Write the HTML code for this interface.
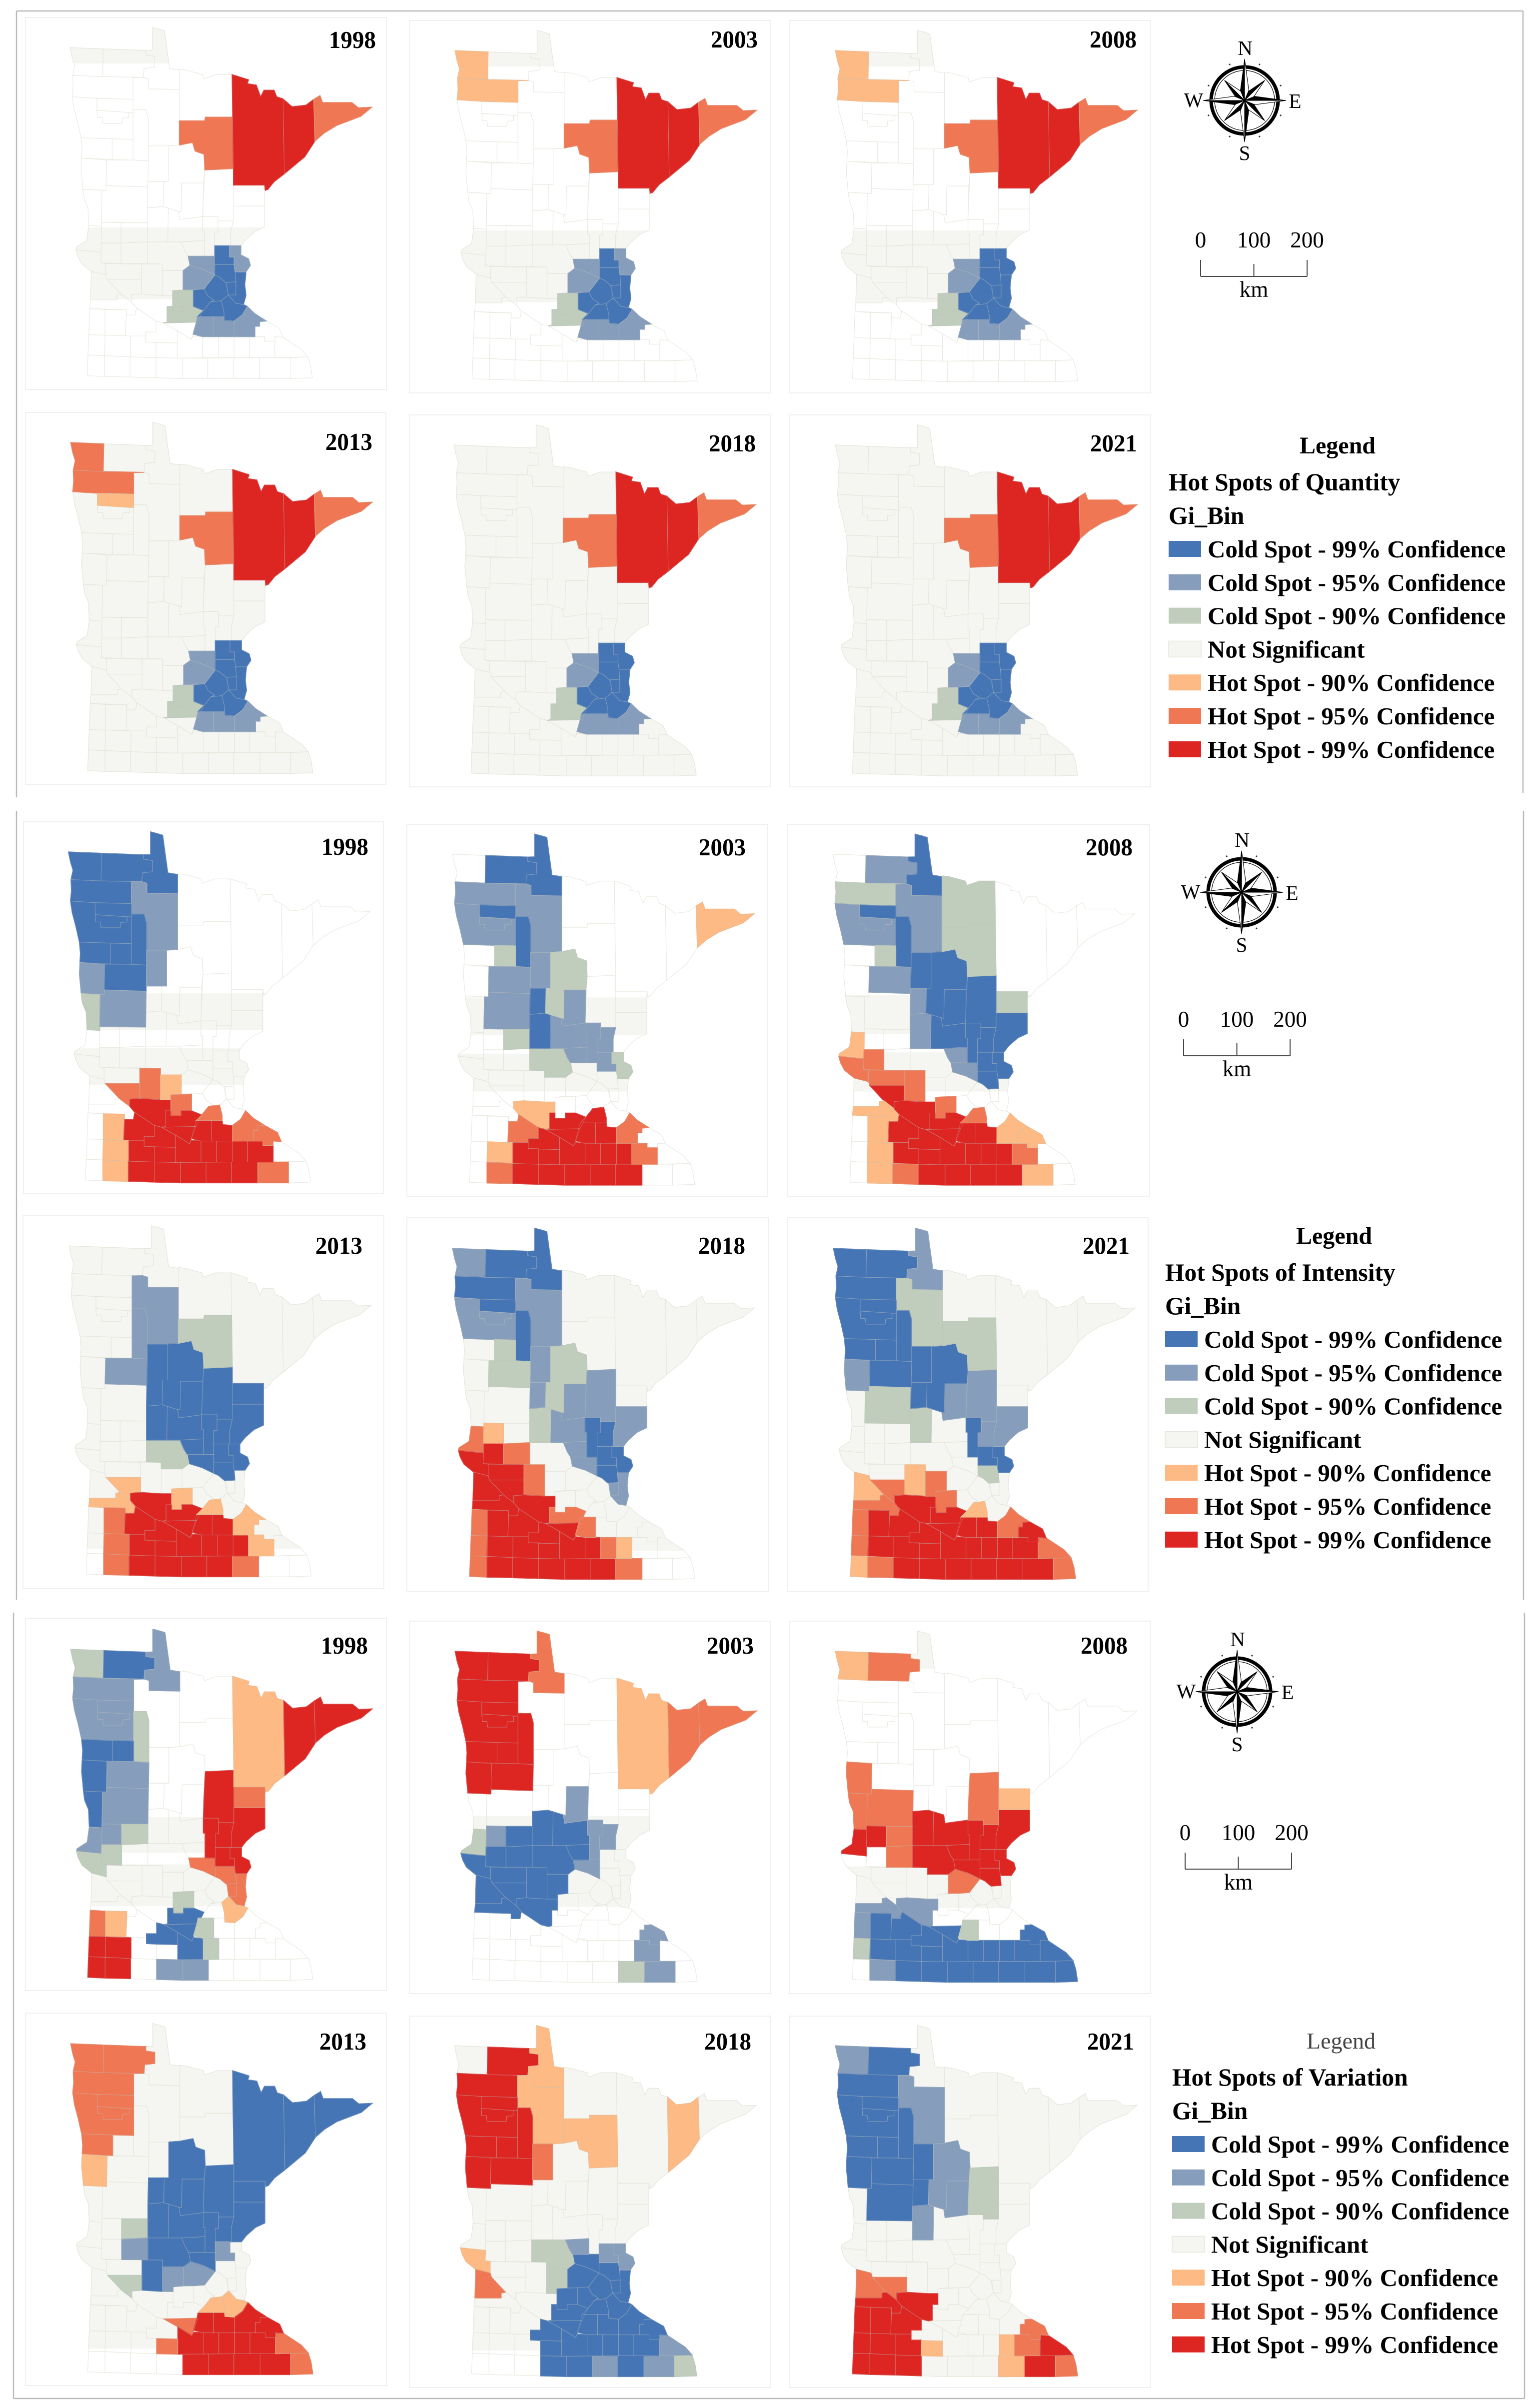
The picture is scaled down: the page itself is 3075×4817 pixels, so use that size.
<!DOCTYPE html>
<html lang="en">
<head>
<meta charset="utf-8">
<title>Hot spots of quantity, intensity and variation across Minnesota counties</title>
<style>
html,body{margin:0;padding:0;background:#fff}
svg{display:block}
text{font-family:"Liberation Serif",serif;fill:#000}
</style>
</head>
<body>
<svg id="figure" xmlns="http://www.w3.org/2000/svg" width="3075" height="4817" viewBox="0 0 3075 4817"></svg>
<script>
/* ---------- class colours and legend ---------- */
const classColors = {c3:'#4575b5',c2:'#869dbb',c1:'#c0ccbc',ns:'#f5f6f1',h1:'#fdba84',h2:'#ef7753',h3:'#dd2522'};
const legendClasses = ['c3','c2','c1','ns','h1','h2','h3'];
const legendLabels = ['Cold Spot - 99% Confidence','Cold Spot - 95% Confidence','Cold Spot - 90% Confidence','Not Significant','Hot Spot - 90% Confidence','Hot Spot - 95% Confidence','Hot Spot - 99% Confidence'];
const scaleTicks = [0,100,200];

/* ---------- quantity ---------- */
const q1998 = [['c3','Isanti','Anoka','Hennepin','Ramsey','Washington','Carver','Scott','Dakota'],['c2','Chisago','Sherburne','Wright','LeSueur','Rice','Goodhue'],['c1','McLeod','Sibley'],['h2','Cook','Itasca'],['h3','StLouis','Lake']];
const q2003 = [['c3','Isanti','Anoka','Hennepin','Ramsey','Washington','Carver','Scott','Dakota'],['c2','Chisago','Sherburne','Wright','LeSueur','Rice','Goodhue'],['c1','McLeod','Sibley'],['h1','Kittson','Marshall'],['h2','Cook','Itasca'],['h3','StLouis','Lake']];
const q2008 = [['c3','Isanti','Chisago','Anoka','Hennepin','Ramsey','Washington','Carver','Scott','Dakota'],['c2','Sherburne','Wright','LeSueur','Rice','Goodhue'],['c1','McLeod','Sibley'],['h1','Kittson','Marshall'],['h2','Cook','Itasca'],['h3','StLouis','Lake']];
const q2013 = [['c3','Isanti','Chisago','Anoka','Hennepin','Ramsey','Washington','Carver','Scott','Dakota'],['c2','Sherburne','Wright','LeSueur','Rice','Goodhue'],['c1','McLeod','Sibley'],['h1','Pennington'],['h2','Kittson','Marshall','Cook','Itasca'],['h3','StLouis','Lake']];
const q2018 = [['c3','Isanti','Chisago','Anoka','Hennepin','Ramsey','Washington','Carver','Scott','Dakota'],['c2','Sherburne','Wright','LeSueur','Rice','Goodhue'],['c1','McLeod','Sibley'],['h2','Cook','Itasca'],['h3','StLouis','Lake']];
const q2021 = [['c3','Isanti','Chisago','Anoka','Hennepin','Ramsey','Washington','Carver','Scott','Dakota'],['c2','Sherburne','Wright','LeSueur','Rice','Goodhue'],['c1','McLeod','Sibley'],['h2','Cook','Itasca'],['h3','StLouis','Lake']];

/* ---------- intensity ---------- */
const i1998 = [['c3','Kittson','Roseau','LakeWoods','Marshall','Polk','Pennington','RedLake','Norman','Mahnomen','Clearwater','Becker'],['c2','Beltrami','Hubbard','Clay','OtterTail'],['c1','Wilkin'],['h1','Meeker','Lyon','Murray','Nobles'],['h2','Kandiyohi','Chippewa','McLeod','Scott','Goodhue','Wabasha','Fillmore'],['h3','Renville','Sibley','Redwood','Brown','Nicollet','LeSueur','Rice','Cottonwood','Watonwan','BlueEarth','Waseca','Steele','Dodge','Olmsted','Jackson','Martin','Faribault','Freeborn','Mower']];
const i2003 = [['c3','Roseau','LakeWoods','Pennington','Clearwater','Wadena','Todd'],['c2','Marshall','Polk','RedLake','Beltrami','Becker','Hubbard','CrowWing','OtterTail','Morrison','MilleLacs','Kanabec','Benton','Isanti'],['c1','Mahnomen','Cass','Douglas','Chisago','Stearns'],['h1','Cook','Renville','Murray'],['h2','Redwood','Goodhue','Olmsted','Nobles'],['h3','Sibley','Scott','Nicollet','Brown','LeSueur','Rice','Cottonwood','Watonwan','BlueEarth','Waseca','Steele','Dodge','Jackson','Martin','Faribault','Freeborn','Mower']];
const i2008 = [['c3','LakeWoods','Pennington','Clearwater','Hubbard','Cass','CrowWing','Aitkin','Pine','Kanabec','MilleLacs','Morrison','Isanti','Chisago','Anoka'],['c2','Roseau','Beltrami','Polk','RedLake','Becker','Todd','Wadena','Benton','Sherburne'],['c1','Marshall','Koochiching','Itasca','Mahnomen','Carlton'],['h1','Traverse','YellowMedicine','Lyon','Goodhue','Wabasha','Murray','Nobles','Fillmore'],['h2','Stevens','BigStone','Swift','Kandiyohi','McLeod','Scott','Olmsted','Jackson'],['h3','Chippewa','Renville','Sibley','Redwood','Brown','Nicollet','LeSueur','Rice','Cottonwood','Watonwan','BlueEarth','Waseca','Steele','Dodge','Martin','Faribault','Freeborn','Mower']];
const i2013 = [['c3','Hubbard','Cass','Wadena','CrowWing','Aitkin','Carlton','Pine','Kanabec','MilleLacs','Todd','Morrison','Benton','Isanti','Chisago','Sherburne','Anoka'],['c2','Beltrami','Clearwater','Becker'],['c1','Itasca','Stearns'],['h1','Chippewa','YellowMedicine','McLeod','Scott','Goodhue','Olmsted'],['h2','Lyon','Murray','Nobles','Mower'],['h3','Renville','Sibley','Redwood','Brown','Nicollet','LeSueur','Rice','Cottonwood','Watonwan','BlueEarth','Waseca','Steele','Dodge','Jackson','Martin','Faribault','Freeborn']];
const i2018 = [['c3','Roseau','LakeWoods','Marshall','Pennington','Clearwater','MilleLacs','Kanabec','Isanti','Chisago','Anoka'],['c2','Kittson','Polk','RedLake','Beltrami','Hubbard','Wadena','CrowWing','Aitkin','Pine','Morrison','Benton','Sherburne','Washington','Ramsey'],['c1','Todd','Cass','Mahnomen','Becker'],['h1','Grant','Dodge'],['h2','Traverse','Pope','Kandiyohi','Sibley','Lincoln','LeSueur','Pipestone','Rock','Steele','Mower'],['h3','Stevens','BigStone','Swift','Chippewa','LacQuiParle','YellowMedicine','Renville','Lyon','Redwood','Brown','Nicollet','Murray','Nobles','Cottonwood','Watonwan','BlueEarth','Waseca','Jackson','Martin','Faribault','Freeborn']];
const i2021 = [['c3','Kittson','Roseau','Marshall','Polk','Pennington','RedLake','Clearwater','Norman','Mahnomen','Becker','Hubbard','Cass','Wadena','MilleLacs','Isanti','Chisago'],['c2','LakeWoods','Clay','CrowWing','Aitkin','Pine','Kanabec'],['c1','Beltrami','Itasca','OtterTail','Todd','Anoka'],['h1','LacQuiParle','Kandiyohi','Scott','Rock'],['h2','Chippewa','Meeker','McLeod','YellowMedicine','Lincoln','Goodhue','Pipestone','Winona','Nobles','Houston'],['h3','Renville','Sibley','Lyon','Redwood','Brown','Nicollet','LeSueur','Rice','Wabasha','Murray','Cottonwood','Watonwan','BlueEarth','Waseca','Steele','Dodge','Olmsted','Jackson','Martin','Faribault','Freeborn','Mower','Fillmore']];

/* ---------- variation ---------- */
const v1998 = [['c3','Roseau','Clay','Wilkin','Norman','Mahnomen','Sibley','Nicollet','Brown','BlueEarth'],['c2','LakeWoods','Marshall','Polk','Pennington','RedLake','Becker','OtterTail','Traverse','Grant','Martin','Faribault'],['c1','Kittson','Clearwater','Douglas','Stevens','BigStone','McLeod','LeSueur','Waseca'],['h1','StLouis','Dakota','Lyon'],['h2','Carlton','Sherburne','Anoka','Ramsey','Washington','Lincoln'],['h3','Lake','Cook','Aitkin','Pine','Kanabec','MilleLacs','Isanti','Chisago','Pipestone','Murray','Rock','Nobles']];
const v2003 = [['c3','Douglas','Todd','Morrison','Benton','Stearns','Pope','Stevens','BigStone','Swift','Kandiyohi','Meeker','LacQuiParle','Chippewa','YellowMedicine','Renville'],['c2','CrowWing','MilleLacs','Kanabec','Grant','Sherburne','Wabasha','Olmsted','Fillmore'],['c1','Traverse','Mower'],['h1','StLouis'],['h2','LakeWoods','Lake','Cook'],['h3','Kittson','Roseau','Marshall','Polk','Pennington','RedLake','Clearwater','Norman','Mahnomen','Clay','Becker']];
const v2008 = [['c3','Lyon','Redwood','Brown','Nicollet','Wabasha','Winona','Murray','Cottonwood','Watonwan','BlueEarth','Waseca','Steele','Dodge','Olmsted','Jackson','Martin','Faribault','Freeborn','Mower','Fillmore','Houston'],['c2','Renville','YellowMedicine','Lincoln','Nobles'],['c1','LeSueur','Pipestone'],['h1','Kittson','Carlton'],['h2','Roseau','Clay','Wilkin','OtterTail','Aitkin','Douglas','Pope','Wright'],['h3','Pine','Kanabec','MilleLacs','Isanti','Chisago','Anoka','Morrison','Todd','Benton','Sherburne','Stearns','Grant','Traverse']];
const v2013 = [['c3','StLouis','Lake','Cook','Aitkin','Carlton','Pine','Kanabec','MilleLacs','Cass','CrowWing','Wadena','Todd','Morrison','Benton','Stearns','Sherburne','Kandiyohi'],['c2','Isanti','Pope','Meeker','Wright'],['c1','Douglas','Chippewa'],['h1','Clay','Scott','Dakota'],['h2','Kittson','Roseau','Marshall','Polk','Pennington','RedLake','Norman','Nicollet','Winona','Watonwan','Houston'],['h3','LeSueur','Rice','Goodhue','Wabasha','BlueEarth','Waseca','Steele','Dodge','Olmsted','Faribault','Freeborn','Mower','Fillmore']];
const v2018 = [['c3','Sherburne','Anoka','Wright','Hennepin','Ramsey','Washington','Carver','Scott','Dakota','Goodhue','Wabasha','Sibley','McLeod','Nicollet','Brown','BlueEarth','LeSueur','Rice','Waseca','Steele','Dodge','Olmsted','Watonwan','Martin','Faribault','Mower'],['c2','Benton','Isanti','Chisago','Winona','Freeborn','Fillmore'],['c1','Stearns','Meeker','Houston'],['h1','LakeWoods','Beltrami','Itasca','Lake','BigStone'],['h2','Hubbard','LacQuiParle'],['h3','Roseau','Marshall','Polk','Pennington','RedLake','Clearwater','Norman','Mahnomen','Clay','Becker']];
const v2021 = [['c3','Roseau','Marshall','Polk','Pennington','RedLake','Clearwater','Norman','Mahnomen','Clay','Becker','Hubbard','Wadena','OtterTail'],['c2','Kittson','Beltrami','Cass','CrowWing','Todd'],['c1','Aitkin'],['h1','Watonwan','Dodge','Mower'],['h2','LacQuiParle','Chippewa','Olmsted','Wabasha','Houston'],['h3','YellowMedicine','Lincoln','Lyon','Redwood','Renville','Pipestone','Murray','Rock','Nobles','Cottonwood','Jackson','Fillmore','Winona']];

/* ---------- base map: county outlines in map units ---------- */
const countyShapes = {
Kittson:'275,182 405,187 403,293 285,288 293,252 283,220',
Roseau:'405,187 570,193 570,210 605,215 605,258 565,262 563,296 403,293',
LakeWoods:'597,192 597,105 625,112 645,118 652,170 665,262 703,268 703,342 583,340 583,302 563,296 565,262 605,258 605,215 570,210 570,193',
Marshall:'285,288 403,293 563,296 522,297 522,380 380,376 283,370 287,330',
Beltrami:'522,297 563,296 583,302 583,340 703,342 703,555 660,558 582,558 582,455 572,420 522,420',
Pennington:'380,376 522,380 522,430 505,430 380,422',
RedLake:'380,422 505,430 505,450 480,452 478,472 403,472 400,450 382,450',
Polk:'283,370 380,376 380,422 382,450 400,450 403,472 478,472 480,452 505,450 505,430 522,430 522,533 440,531 318,527 305,470 290,415',
Clearwater:'522,420 572,420 582,455 582,615 522,612',
Norman:'318,527 440,531 440,610 320,605 322,570',
Mahnomen:'440,531 522,533 522,612 440,610',
Clay:'320,605 418,612 416,728 325,724 322,690 318,650',
Becker:'418,612 522,612 582,615 580,715 416,710',
Hubbard:'582,558 660,558 660,695 580,695 582,615',
Wilkin:'325,724 400,728 398,865 348,862 345,795 330,760',
OtterTail:'400,728 416,728 416,710 580,715 578,852 398,850',
Traverse:'348,862 398,865 397,965 298,955 300,945 340,920',
Grant:'398,850 475,852 475,930 397,930',
Douglas:'475,852 578,852 578,925 475,930',
Stevens:'397,930 475,930 475,1008 395,1005',
Pope:'475,930 578,925 578,1008 475,1008',
BigStone:'298,955 397,965 395,1005 415,1008 415,1052 358,1038 320,1008 305,980',
Swift:'415,1008 555,1010 555,1068 420,1068 415,1052',
LacQuiParle:'358,1038 415,1052 420,1068 475,1125 458,1128 458,1147 355,1147',
Chippewa:'420,1068 555,1068 555,1125 515,1128 515,1155 475,1125',
YellowMedicine:'355,1147 458,1147 458,1128 475,1125 515,1155 535,1178 530,1205 495,1205 495,1185 352,1180',
Kandiyohi:'555,1010 636,1010 636,1130 555,1125',
Renville:'515,1128 555,1125 636,1130 677,1130 677,1172 655,1172 655,1232 640,1235 612,1228 535,1178 515,1155',
Meeker:'636,1035 718,1035 718,1108 677,1112 677,1130 636,1130',
McLeod:'677,1112 758,1108 758,1172 717,1172 717,1192 677,1192 677,1130',
Sibley:'655,1172 677,1172 677,1192 717,1192 717,1172 758,1172 798,1188 775,1232 640,1235 655,1232',
Lincoln:'352,1180 412,1184 412,1282 348,1280',
Lyon:'412,1184 495,1185 495,1205 492,1285 412,1282',
Redwood:'495,1205 530,1205 535,1178 612,1228 612,1270 572,1270 572,1285 492,1285',
Pipestone:'348,1280 412,1282 412,1360 345,1358',
Murray:'412,1282 512,1285 512,1365 410,1360',
Cottonwood:'512,1285 572,1285 572,1308 612,1308 612,1368 512,1365',
Rock:'345,1358 410,1360 410,1440 342,1437',
Nobles:'410,1360 510,1365 510,1442 410,1440',
Jackson:'510,1365 612,1368 612,1445 510,1442',
Brown:'612,1228 640,1235 695,1265 695,1312 612,1310 572,1308 572,1270 612,1270',
Nicollet:'640,1235 775,1232 758,1278 750,1298 695,1265',
BlueEarth:'695,1265 750,1298 758,1285 795,1288 795,1368 695,1370',
Watonwan:'612,1310 695,1312 695,1370 612,1368',
Martin:'612,1368 715,1370 715,1448 612,1445',
Faribault:'715,1370 815,1370 815,1448 715,1448',
Freeborn:'815,1370 915,1368 915,1448 815,1448',
Mower:'915,1368 1018,1368 1018,1448 915,1448',
Fillmore:'1018,1368 1138,1368 1138,1448 1018,1448',
Houston:'1138,1368 1207,1365 1218,1400 1225,1445 1138,1448',
Waseca:'795,1288 856,1288 856,1368 795,1368',
Steele:'856,1288 918,1288 918,1368 856,1368',
Dodge:'918,1288 978,1288 978,1368 918,1368',
Olmsted:'978,1288 1038,1288 1038,1305 1078,1305 1078,1368 978,1368',
Winona:'1110,1290 1180,1335 1207,1365 1078,1368 1078,1305 1078,1288',
LeSueur:'775,1210 836,1210 836,1288 795,1288 757,1278 770,1232',
Rice:'836,1210 878,1210 880,1225 918,1228 918,1288 836,1288',
Scott:'798,1188 825,1155 868,1150 878,1190 878,1210 836,1210 775,1210',
Carver:'758,1108 800,1105 815,1132 840,1148 825,1155 798,1188 758,1172',
Hennepin:'842,1052 860,1060 885,1080 895,1128 868,1150 825,1155 840,1148 815,1132 800,1105',
Wright:'745,1015 795,1030 842,1052 800,1105 758,1108 718,1108 718,1035',
Sherburne:'738,980 802,980 842,980 842,1052 795,1030 745,1015',
Anoka:'842,1012 918,1012 922,1040 925,1078 888,1080 885,1080 860,1060 842,1052',
Ramsey:'888,1080 925,1078 925,1128 895,1128',
Washington:'922,1040 965,1040 960,1090 965,1130 955,1165 925,1160 895,1128 925,1128 925,1078',
Dakota:'868,1150 895,1128 925,1160 955,1165 970,1172 950,1205 918,1228 880,1225 878,1190',
Goodhue:'970,1172 1000,1200 1045,1228 1018,1230 1018,1248 1000,1248 1000,1288 918,1288 918,1228 950,1205',
Wabasha:'1045,1228 1095,1255 1110,1290 1078,1288 1078,1305 1038,1305 1038,1288 1000,1288 1000,1248 1018,1248 1018,1230',
Stearns:'578,925 710,925 725,960 738,980 745,1015 718,1035 636,1035 636,1010 578,1008',
Benton:'710,925 802,920 802,980 738,980 725,960',
Morrison:'660,796 700,808 705,840 795,828 795,885 802,885 802,920 710,925 658,925',
Todd:'578,795 640,790 660,796 658,925 578,925',
Wadena:'580,695 642,695 640,790 578,795',
CrowWing:'712,700 798,700 795,828 705,840 700,808 710,810',
Cass:'660,558 703,555 755,545 765,578 800,590 803,650 798,700 712,700 710,810 700,808 640,790 642,695 660,695',
MilleLacs:'795,828 855,828 855,888 842,888 842,980 802,980 802,885 795,885',
Kanabec:'855,845 915,845 905,888 905,940 842,940 842,888 855,888',
Isanti:'842,940 900,940 900,983 918,983 918,1012 842,1012',
Chisago:'900,940 945,940 945,975 975,990 982,1015 965,1040 922,1040 918,1012 918,983 900,983',
Pine:'915,788 1037,788 1037,868 1000,885 965,915 945,940 905,940 905,888 915,845',
Carlton:'915,708 1037,708 1037,788 915,788',
Aitkin:'803,650 915,645 915,845 855,845 855,828 795,828 798,750',
Itasca:'703,462 803,462 805,448 912,448 915,645 803,650 800,590 765,578 755,545 703,555',
Koochiching:'703,265 730,268 795,285 800,302 850,285 910,285 912,448 805,448 803,462 703,462',
StLouis:'910,285 975,305 970,320 1005,325 1022,370 1035,345 1075,345 1085,370 1110,378 1115,665 1075,695 1050,725 1040,728 1038,708 915,708 915,645 912,448',
Lake:'1110,378 1145,408 1200,402 1230,380 1235,540 1195,600 1115,665',
Cook:'1230,380 1255,365 1265,392 1380,392 1405,412 1458,410 1415,445 1320,480 1270,510 1235,540'
};

/* ---------- layout of panels (not data) ---------- */
const panelLayout = [
 {name:'quantity-1998',year:'1998',map:q1998,tx:0,ty:0,frame:[51,35,773,779],label:[752,96],bands:[[105,243],[870,1145]]},
 {name:'quantity-2003',year:'2003',map:q2003,tx:770,ty:6,frame:[819,41,1541,786],label:[1516,95],bands:[[105,243],[870,1145]]},
 {name:'quantity-2008',year:'2008',map:q2008,tx:1531,ty:6,frame:[1580,41,2302,786],label:[2274,95],bands:[[105,243],[870,1145]]},
 {name:'quantity-2013',year:'2013',map:q2013,tx:1,ty:790,frame:[51,825,772,1569],label:[745,900],bands:[[0,1500]]},
 {name:'quantity-2018',year:'2018',map:q2018,tx:768,ty:795,frame:[819,830,1541,1574],label:[1512,903],bands:[[0,1500]]},
 {name:'quantity-2021',year:'2021',map:q2021,tx:1531,ty:795,frame:[1580,830,2302,1574],label:[2275,903],bands:[[0,1500]]},
 {name:'intensity-1998',year:'1998',map:i1998,tx:-3.5,ty:1609,frame:[47,1644,767,2387],label:[737,1710],bands:[[723,863],[933,1073]]},
 {name:'intensity-2003',year:'2003',map:i2003,tx:765,ty:1613.5,frame:[814,1649,1535,2393],label:[1492,1711],bands:[[730,875],[945,1090]]},
 {name:'intensity-2008',year:'2008',map:i2008,tx:1526,ty:1613.5,frame:[1575,1649,2300,2393],label:[2266,1711],bands:[[720,870],[940,1090]]},
 {name:'intensity-2013',year:'2013',map:i2013,tx:-2,ty:2397,frame:[46,2432,768,3178],label:[725,2508],bands:[[0,1340]]},
 {name:'intensity-2018',year:'2018',map:i2018,tx:765,ty:2402,frame:[814,2436,1537,3184],label:[1491,2508],bands:[[0,1340]]},
 {name:'intensity-2021',year:'2021',map:i2021,tx:1527,ty:2402,frame:[1576,2436,2297,3184],label:[2260,2508],bands:[[0,1500]]},
 {name:'variation-1998',year:'1998',map:v1998,tx:1,ty:3204,frame:[51,3238,773,3982],label:[736,3308],bands:[[823,960],[1005,1165]]},
 {name:'variation-2003',year:'2003',map:v2003,tx:770,ty:3208,frame:[819,3243,1541,3988],label:[1508,3308],bands:[[812,1160]]},
 {name:'variation-2008',year:'2008',map:v2008,tx:1531,ty:3208,frame:[1580,3243,2302,3988],label:[2256,3308],bands:[[105,250],[1005,1165]]},
 {name:'variation-2013',year:'2013',map:v2013,tx:1,ty:3993,frame:[51,4027,773,4772],label:[733,4100],bands:[[0,1348]]},
 {name:'variation-2018',year:'2018',map:v2018,tx:769,ty:3997,frame:[819,4033,1542,4776],label:[1503,4100],bands:[[0,1348]]},
 {name:'variation-2021',year:'2021',map:v2021,tx:1531,ty:3997,frame:[1580,4033,2302,4776],label:[2269,4100],bands:[[0,1500]]}
];
const groupLayout = [
 {name:'quantity',title:'Hot Spots of Quantity',legendDx:0,legendDy:0,compassDx:0,compassDy:0,scaleDx:0,scaleDy:0,bold:true},
 {name:'intensity',title:'Hot Spots of Intensity',legendDx:-7,legendDy:1581,compassDx:-6,compassDy:1584,scaleDx:-34,scaleDy:1559,bold:true},
 {name:'variation',title:'Hot Spots of Variation',legendDx:7,legendDy:3191,compassDx:-15,compassDy:3183,scaleDx:-31,scaleDy:3186,bold:false}
];
const frameLines = [
 [33,1595,33,22],[33,22,3047,22],[3047,22,3047,1586],
 [33,1622,33,3200],[3048,1622,3048,3200],
 [27,3226,27,4798],[27,4798,3050,4798],[3050,3226,3050,4798]
];

/* ---------- axis functions: map units to page pixels ---------- */
const X_UNITS = 1.96, Y_UNITS = 1.912;
function xScale(panel,u){return panel.tx+u/X_UNITS;}
function yScale(panel,u){return panel.ty+u/Y_UNITS;}

const NS = 'http://www.w3.org/2000/svg';
const root = document.getElementById('figure');
function mk(tag,attrs,parent,txt){
  const el = document.createElementNS(NS,tag);
  for(const k in attrs){el.setAttribute(k,attrs[k]);}
  if(txt!==undefined){el.textContent = txt;}
  (parent||root).appendChild(el);
  return el;
}

/* white page background and group frames */
const pageBg = mk('rect',{x:0,y:0,width:3075,height:4817,fill:'#fff'});


frameLines.forEach(function(l){
  const line = mk('line',{x1:l[0],y1:l[1],x2:l[2],y2:l[3],stroke:'#b9b9b9','stroke-width':2.5});
  
  
});

function projected(panel,shape){
  return shape.split(' ').map(function(p){
    const xy = p.split(',');
    return xScale(panel,+xy[0]).toFixed(1)+','+yScale(panel,+xy[1]).toFixed(1);
  }).join(' ');
}

panelLayout.forEach(function(panel,idx){
  const g = mk('g',{});
  
  
  const f = panel.frame;
  const frame = mk('rect',{x:f[0],y:f[1],width:f[2]-f[0],height:f[3]-f[1],fill:'none',stroke:'#f0f0f0','stroke-width':2},g);
  
  

  const clipId = 'band'+idx;
  const clip = mk('clipPath',{id:clipId},g);
  panel.bands.forEach(function(b){
    mk('rect',{x:f[0],y:yScale(panel,b[0]),width:f[2]-f[0],height:(b[1]-b[0])/Y_UNITS},clip);
  });

  const lookup = {};
  panel.map.forEach(function(row){
    row.slice(1).forEach(function(c){lookup[c]=row[0];});
  });

  /* un-classified counties: outline, then the shaded not-significant wash */
  Object.keys(countyShapes).forEach(function(c){
    if(lookup[c]){return;}
    const pts = projected(panel,countyShapes[c]);
    const base = mk('polygon',{points:pts,fill:'#fff',stroke:'#ebebe3','stroke-width':1.3},g);
    
    
    mk('polygon',{points:pts,fill:classColors.ns,stroke:'#e6e7de','stroke-width':1.3,'clip-path':'url(#'+clipId+')'},g);
  });
  /* classified counties */
  Object.keys(countyShapes).forEach(function(c){
    if(!lookup[c]){return;}
    const col = classColors[lookup[c]];
    const poly = mk('polygon',{points:projected(panel,countyShapes[c]),fill:col,stroke:col,'stroke-width':1.6},g);
    
    
  });
  /* thin inner county borders over filled counties */
  Object.keys(countyShapes).forEach(function(c){
    if(!lookup[c]){return;}
    mk('polygon',{points:projected(panel,countyShapes[c]),fill:'none',stroke:'rgba(190,195,190,.3)','stroke-width':1.1},g);
  });

  const yr = mk('text',{x:panel.label[0],y:panel.label[1],'text-anchor':'end','font-size':49,'font-weight':'bold',textLength:94,lengthAdjust:'spacingAndGlyphs'},g,panel.year);
  
  
});

/* compass */
function drawCompass(cx,cy,parent){
  const g = mk('g',{},parent);
  
  
  mk('circle',{cx:cx,cy:cy,r:67,fill:'#fff',stroke:'#000','stroke-width':7},g);
  mk('circle',{cx:cx,cy:cy,r:60,fill:'none',stroke:'#000','stroke-width':1.2},g);
  function star(ang,len,waist){
    const a = ang*Math.PI/180;
    const tip = [cx+len*Math.cos(a),cy+len*Math.sin(a)];
    const l = [cx+waist*Math.cos(a-Math.PI/8),cy+waist*Math.sin(a-Math.PI/8)];
    const r = [cx+waist*Math.cos(a+Math.PI/8),cy+waist*Math.sin(a+Math.PI/8)];
    mk('polygon',{points:[tip,[cx,cy],r].map(function(p){return p.join(',');}).join(' '),fill:'#fff',stroke:'#000','stroke-width':1.1},g);
    mk('polygon',{points:[tip,[cx,cy],l].map(function(p){return p.join(',');}).join(' '),fill:'#000',stroke:'#000','stroke-width':1},g);
  }
  [45,135,225,315].forEach(function(a){star(a,57,20);});
  [0,90,180,270].forEach(function(a){star(a,83,22);});
  [22.5,67.5,112.5,157.5,202.5,247.5,292.5,337.5].forEach(function(d){
    const a = d*Math.PI/180;
    mk('circle',{cx:cx+78*Math.cos(a),cy:cy+78*Math.sin(a),r:1.6,fill:'#333'},g);
  });
  const letters = [['N',cx+1,cy-91],['S',cx,cy+119],['W',cx-102,cy+13],['E',cx+101,cy+15]];
  letters.forEach(function(t){
    const lt = mk('text',{x:t[1],y:t[2],'text-anchor':'middle','font-size':41},g,t[0]);
    
    
  });
}

/* scale bar */
function drawScale(dx,dy,parent){
  const g = mk('g',{},parent);
  
  
  const x0 = 2402+dx, x1 = 2615+dx, yb = 553+dy;
  function sx(v){return x0+(x1-x0)*v/scaleTicks[scaleTicks.length-1];}
  mk('line',{x1:x0,y1:yb,x2:x1,y2:yb,stroke:'#444','stroke-width':2},g);
  scaleTicks.forEach(function(t,i){
    const top = (i===1)?528:520;
    mk('line',{x1:sx(t),y1:top+dy,x2:sx(t),y2:yb,stroke:'#444','stroke-width':2},g);
    const lbl = mk('text',{x:sx(t),y:495+dy,'text-anchor':'middle','font-size':45},g,String(t));
    
    
  });
  const km = mk('text',{x:sx(100),y:594+dy,'text-anchor':'middle','font-size':45},g,'km');
  
  
}

/* legends */
groupLayout.forEach(function(group){
  const side = mk('g',{});
  
  
  drawCompass(2490+group.compassDx,201+group.compassDy,side);
  drawScale(group.scaleDx,group.scaleDy,side);

  const dx = group.legendDx, dy = group.legendDy;
  const lg = mk('g',{},side);
  
  
  const title = mk('text',{x:2676+dx,y:907+dy,'text-anchor':'middle','font-size':group.bold?48:46,'font-weight':group.bold?'bold':'normal'},lg,'Legend');
  title.style.fill = group.bold?'#000':'#444';
  
  
  const sub = mk('text',{x:2338+dx,y:981+dy,'font-size':49.5,'font-weight':'bold'},lg,group.title);
  
  
  const fld = mk('text',{x:2338+dx,y:1048+dy,'font-size':49.5,'font-weight':'bold'},lg,'Gi_Bin');
  
  
  legendClasses.forEach(function(cls,i){
    const y = 1082+dy+i*66.8;
    const sw = mk('rect',{x:2338+dx,y:y,width:65,height:32,fill:classColors[cls],stroke:cls==='ns'?'#e6e6e0':'none','stroke-width':1.5},lg);
    
    
    const t = mk('text',{x:2416+dx,y:y+33,'font-size':49,'font-weight':'bold'},lg,legendLabels[i]);
    
    
  });
});
</script>
</body>
</html>
